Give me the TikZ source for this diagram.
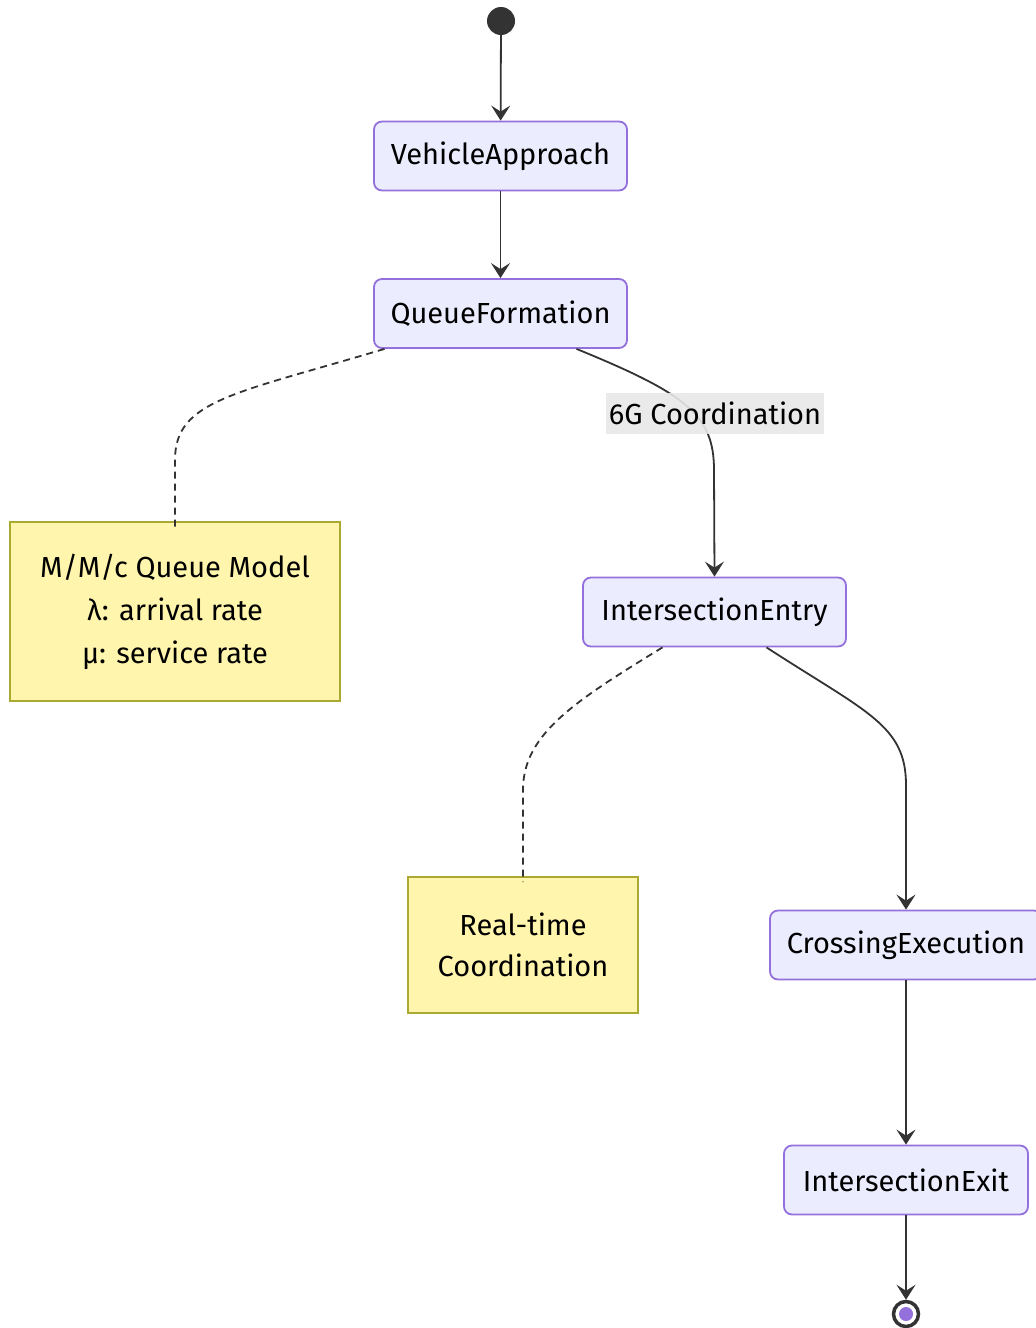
\documentclass[tikz,border=0pt]{standalone}
\usepackage{fontspec}
\setmainfont{Fira Sans}
\usetikzlibrary{arrows.meta,calc}
\definecolor{nodefill}{HTML}{ECECFF}
\definecolor{nodeline}{HTML}{9370DB}
\definecolor{notefill}{HTML}{FFF5AD}
\definecolor{noteline}{HTML}{AAAA33}
\definecolor{edgecol}{HTML}{333333}
\definecolor{lblbg}{HTML}{E8E8E8}
\tikzset{
  state/.style={draw=nodeline, fill=nodefill, line width=1.8pt, rounded corners=8pt,
    minimum height=69pt, inner sep=0pt, font=\fontsize{29}{34}\selectfont, text=black},
  notebox/.style={draw=noteline, fill=notefill, line width=1.8pt,
    inner sep=0pt, font=\fontsize{29}{43}\selectfont, align=center, text=black},
  edge/.style={draw=edgecol, line width=1.8pt, -{Stealth[length=15pt,width=19pt,inset=6pt]}},
  noteedge/.style={draw=edgecol, line width=1.8pt, dash pattern=on 7pt off 5pt},
  lbl/.style={fill=lblbg, fill opacity=0.9, text opacity=1, inner sep=0pt,
    minimum height=41pt, minimum width=218pt, font=\fontsize{29}{34}\selectfont}
}
\begin{document}
\begin{tikzpicture}[x=1pt,y=-1pt]
\useasboundingbox (0,0) rectangle (1036,1328);
% nodes
\node[circle, fill=edgecol, minimum size=28pt, inner sep=0pt] (start) at (501,21) {};
\node[state, minimum width=253pt] (va) at (500.5,156) {VehicleApproach};
\node[state, minimum width=253pt] (qf) at (500.5,313.5) {QueueFormation};
\node[notebox, minimum width=330pt, minimum height=179pt] (n1) at (175,611.5)
  {M/M/c Queue Model\\λ: arrival rate\\μ: service rate};
\node[state, minimum width=263pt] (ie) at (714.5,612) {IntersectionEntry};
\node[notebox, minimum width=230pt, minimum height=136pt, font=\fontsize{29}{41}\selectfont] (n2) at (523,945)
  {Real-time\\Coordination};
\node[state, minimum width=272pt] (ce) at (906,945) {CrossingExecution};
\node[state, minimum width=244pt] (ix) at (906,1180) {IntersectionExit};
\node[circle, draw=edgecol, line width=3.5pt, fill=white, minimum size=25pt, inner sep=0pt] (end) at (906,1314) {};
\fill[nodeline] (end.center) circle (7pt);
% coordinates
\coordinate (m1) at (714,470);
\coordinate (m2) at (175,460);
\coordinate (m3) at (523,790);
\coordinate (m4) at (906,785);
% edges
\draw[edge] (start) -- (va);
\draw[edge] (va) -- (qf);
\draw[edge] ([xshift=76pt]qf.south) .. controls +(110,45) and +(0,-55) .. (m1) -- (ie.north);
\node[lbl] (l1) at (715,413.5) {6G Coordination};
\draw[noteedge] ([xshift=-116pt]qf.south) .. controls +(-150,45) and +(0,-60) .. (m2) -- ([yshift=-6pt]n1.north);
\draw[noteedge] ([xshift=-52pt]ie.south) .. controls +(-90,55) and +(0,-55) .. (m3) -- ([yshift=-6pt]n2.north);
\draw[edge] ([xshift=52pt]ie.south) .. controls +(100,65) and +(0,-60) .. (m4) -- (ce.north);
\draw[edge] (ce) -- (ix);
\draw[edge] (ix) -- (end);
\end{tikzpicture}
\end{document}
